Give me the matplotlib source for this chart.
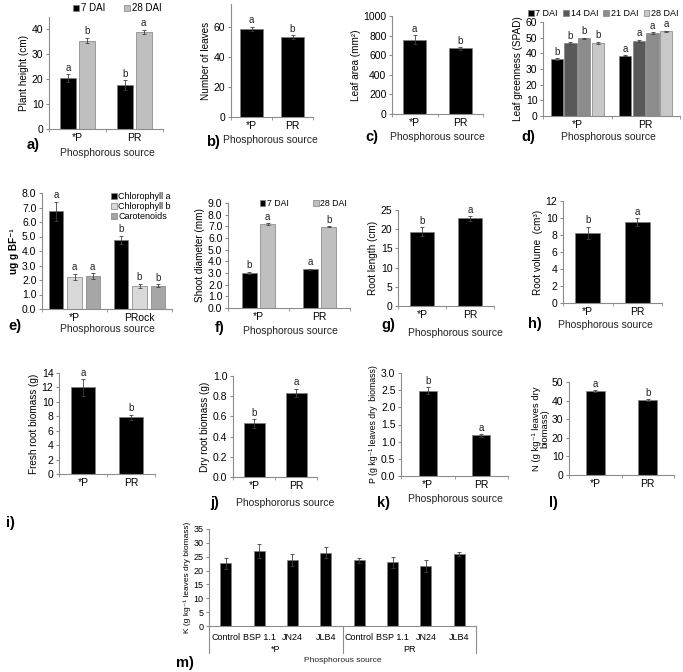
import numpy as np
import matplotlib
matplotlib.use('Agg')
import matplotlib.pyplot as plt
import matplotlib.transforms as mtrans

W, H = 683, 672

# ---- data ----
cats = ['*P', 'PR']

height_7 = [20.5, 17.5]
height_7_err = [1.5, 2.0]
height_28 = [35.5, 39.0]
height_28_err = [1.0, 0.8]
height_7_let = ['a', 'b']
height_28_let = ['b', 'a']

leaves = [58.5, 53.0]
leaves_err = [1.5, 1.2]
leaves_let = ['a', 'b']

area = [760, 670]
area_err = [45, 12]
area_let = ['a', 'b']

spad_labels = ['7 DAI', '14 DAI', '21 DAI', '28 DAI']
spad = [[36.5, 38.5], [46.5, 48.0], [49.5, 53.0], [46.5, 54.0]]
spad_err = [[0.5, 0.4], [0.5, 0.8], [0.6, 0.4], [0.8, 0.5]]
spad_let = [['b', 'a'], ['b', 'a'], ['b', 'a'], ['b', 'a']]

pig_cats = ['*P', 'PRock']
pig_labels = ['Chlorophyll a', 'Chlorophyll b', 'Carotenoids']
pig = [[6.75, 4.75], [2.2, 1.6], [2.25, 1.6]]
pig_err = [[0.65, 0.28], [0.2, 0.12], [0.2, 0.1]]
pig_let = [['a', 'b'], ['a', 'b'], ['a', 'b']]

diam_7 = [3.0, 3.3]
diam_7_err = [0.1, 0.05]
diam_28 = [7.2, 6.95]
diam_28_err = [0.05, 0.05]
diam_7_let = ['b', 'a']
diam_28_let = ['a', 'b']

rootlen = [19.3, 22.8]
rootlen_err = [1.2, 0.6]
rootlen_let = ['b', 'a']

rootvol = [8.25, 9.5]
rootvol_err = [0.75, 0.45]
rootvol_let = ['b', 'a']

fresh = [12.0, 7.85]
fresh_err = [1.15, 0.35]
fresh_let = ['a', 'b']

dry = [0.53, 0.835]
dry_err = [0.04, 0.04]
dry_let = ['b', 'a']

phos = [2.48, 1.18]
phos_err = [0.1, 0.03]
phos_let = ['b', 'a']

nitro = [45.0, 40.3]
nitro_err = [0.5, 0.4]
nitro_let = ['a', 'b']

k_cats = ['Control', 'BSP 1.1', 'JN24', 'JLB4', 'Control', 'BSP 1.1', 'JN24', 'JLB4']
k_groups = ['*P', 'PR']
potas = [22.7, 27.0, 23.8, 26.5, 23.7, 23.0, 21.7, 26.0]
potas_err = [2.0, 2.5, 2.2, 2.0, 0.8, 2.0, 2.2, 0.6]

GRID = '#8c8c8c'
plt.rcParams['font.family'] = ['Liberation Sans', 'DejaVu Sans']

fig = plt.figure(figsize=(W / 100, H / 100), dpi=100)


def px_axes(l, t, r, b):
    return fig.add_axes([l / W, 1 - b / H, (r - l) / W, (b - t) / H])


def ftext(x, y, s, **kw):
    fig.text(x / W, 1 - y / H, s, **kw)


def style(ax, labels, ylim, step, ylabel, fmt=None, lsize=7.2):
    n = len(labels)
    for s in ['top', 'right']:
        ax.spines[s].set_visible(False)
    for s in ['left', 'bottom']:
        ax.spines[s].set_color(GRID)
        ax.spines[s].set_linewidth(0.8)
    ax.set_xlim(-0.5, n - 0.5)
    ax.set_ylim(0, ylim)
    ticks = np.arange(0, ylim + 1e-9, step)
    ax.set_yticks(ticks)
    if fmt:
        ax.set_yticklabels([fmt % t for t in ticks])
    ax.set_xticks(range(n))
    ax.set_xticklabels(labels)
    ax.set_xticks(np.arange(n + 1) - 0.5, minor=True)
    ax.tick_params(axis='x', which='major', length=0, labelsize=7.5, pad=3)
    ax.tick_params(axis='x', which='minor', length=2.5, color=GRID)
    ax.tick_params(axis='y', length=2.5, color=GRID, labelsize=7.5, pad=1.5)
    ax.set_ylabel(ylabel, fontsize=lsize, labelpad=2)


def bars(ax, vals, errs, lets, off, width, color, label=None):
    x = np.arange(len(vals)) + off
    ax.bar(x, vals, width, color=color, edgecolor='#7f7f7f', linewidth=0.5,
           label=label, zorder=2)
    ax.errorbar(x, vals, yerr=errs, fmt='none', ecolor='#404040',
                elinewidth=0.6, capsize=1.3, capthick=0.6, zorder=3)
    if lets is not None:
        top = ax.get_ylim()[1]
        for xi, v, e, l in zip(x, vals, errs, lets):
            ax.text(xi, v + e + top * 0.015, l, ha='center', va='bottom',
                    fontsize=7, color='#222222')


def leg(ax, size=7, **kw):
    l = ax.legend(fontsize=size, frameon=False, handlelength=0.6, handleheight=0.6,
                  handletextpad=0.2, borderaxespad=0, **kw)
    return l


# a) plant height
ax = px_axes(49, 17, 163, 129)
style(ax, cats, 45, 10, 'Plant height (cm)')
bars(ax, height_7, height_7_err, height_7_let, -0.16, 0.28, 'black', '7 DAI')
bars(ax, height_28, height_28_err, height_28_let, 0.16, 0.28, '#bfbfbf', '28 DAI')
leg(ax, loc='lower center', bbox_to_anchor=(0.6, 1.0), ncol=2, columnspacing=2.0)

# b) number of leaves
ax = px_axes(231, 4, 313, 117)
style(ax, cats, 75, 20, 'Number of leaves')
bars(ax, leaves, leaves_err, leaves_let, 0, 0.58, 'black')

# c) leaf area
ax = px_axes(392, 16, 483, 114)
style(ax, cats, 1000, 200, 'Leaf area (mm²)')
bars(ax, area, area_err, area_let, 0, 0.5, 'black')

# d) SPAD
ax = px_axes(543, 22, 680, 116)
style(ax, cats, 60, 10, 'Leaf greenness (SPAD)')
d_cols = ['black', '#595959', '#8c8c8c', '#c8c8c8']
for i in range(4):
    bars(ax, spad[i], spad_err[i], spad_let[i], -0.3 + 0.2 * i, 0.18,
         d_cols[i], spad_labels[i])
leg(ax, size=6.5, loc='lower center', bbox_to_anchor=(0.44, 1.0), ncol=4,
    columnspacing=0.6)

# e) pigments
ax = px_axes(42, 193, 172, 309)
style(ax, pig_cats, 8, 1, 'ug g BF⁻¹', fmt='%.1f')
ax.yaxis.label.set_fontweight('bold')
e_cols = ['black', '#d9d9d9', '#a6a6a6']
for i in range(3):
    bars(ax, pig[i], pig_err[i], pig_let[i], -0.28 + 0.28 * i, 0.22,
         e_cols[i], pig_labels[i])
leg(ax, size=6.5, loc='upper right', bbox_to_anchor=(1.02, 1.04), ncol=1,
    labelspacing=0.12)

# f) shoot diameter
ax = px_axes(228, 203, 350, 308)
style(ax, cats, 9, 1, 'Shoot diameter (mm)', fmt='%.1f')
bars(ax, diam_7, diam_7_err, diam_7_let, -0.15, 0.25, 'black', '7 DAI')
bars(ax, diam_28, diam_28_err, diam_28_let, 0.15, 0.25, '#bfbfbf', '28 DAI')
leg(ax, size=6.3, loc='upper center', bbox_to_anchor=(0.62, 1.07), ncol=2,
    columnspacing=2.8)

# g) root length
ax = px_axes(398, 210, 494, 306)
style(ax, cats, 25, 5, 'Root length (cm)')
bars(ax, rootlen, rootlen_err, rootlen_let, 0, 0.5, 'black')

# h) root volume
ax = px_axes(563, 201, 662, 303)
style(ax, cats, 12, 2, 'Root volume  (cm³)')
bars(ax, rootvol, rootvol_err, rootvol_let, 0, 0.5, 'black')

# i) fresh root biomass
ax = px_axes(59, 373, 155, 474)
style(ax, cats, 14, 2, 'Fresh root biomass (g)')
bars(ax, fresh, fresh_err, fresh_let, 0, 0.52, 'black')

# j) dry root biomass
ax = px_axes(233, 376, 317, 477)
style(ax, cats, 1.0, 0.2, 'Dry root biomass (g)', fmt='%.1f')
bars(ax, dry, dry_err, dry_let, 0, 0.5, 'black')

# k) P
ax = px_axes(401, 373, 508, 476)
style(ax, cats, 3.0, 0.5, 'P (g kg⁻¹ leaves dry  biomass)', fmt='%.1f', lsize=6.3)
bars(ax, phos, phos_err, phos_let, 0, 0.34, 'black')

# l) N
ax = px_axes(569, 382, 674, 475)
style(ax, cats, 50, 10, 'N (g kg⁻¹ leaves dry\nbiomass)', lsize=6.8)
ax.yaxis.label.set_linespacing(0.9)
bars(ax, nitro, nitro_err, nitro_let, 0, 0.36, 'black')

# m) K
ax = px_axes(209, 529, 476, 626)
style(ax, k_cats, 35, 5, 'K (g kg⁻¹ leaves dry biomass)', lsize=6)
ax.tick_params(axis='x', which='minor', length=0)
ax.tick_params(axis='x', which='major', labelsize=6.5, pad=5)
ax.tick_params(axis='y', labelsize=6.5)
bars(ax, potas, potas_err, None, 0, 0.33, 'black')
tr = mtrans.blended_transform_factory(ax.transData, ax.transAxes)
for xs in [-0.5, 3.5, 7.5]:
    ax.plot([xs, xs], [0, -0.28], color=GRID, lw=0.8, transform=tr, clip_on=False)
for gi, g in enumerate(k_groups):
    ax.text(1.5 + 4 * gi, -0.24, g, transform=tr, ha='center', va='center',
            fontsize=6.5)

# panel letters and x titles
letters = [('a)', 33, 145), ('b)', 213, 142), ('c)', 372, 137), ('d)', 528, 137),
           ('e)', 15, 326), ('f)', 220, 328), ('g)', 388, 325), ('h)', 535, 324),
           ('i)', 10, 523), ('j)', 215, 503), ('k)', 383, 503), ('l)', 553, 503),
           ('m)', 185, 663)]
for s, x, y in letters:
    ftext(x, y, s, fontsize=10.5, fontweight='bold', ha='center', va='center')

xtitles = [('Phosphorous source', 107, 153), ('Phosphorous source', 270, 140),
           ('Phosphorous source', 437, 137), ('Phosphorous source', 608, 137),
           ('Phosphorous source', 107, 329), ('Phosphorous source', 290, 331),
           ('Phosphorous source', 455, 333), ('Phosphorous source', 605, 325),
           ('Phosphororus source', 285, 503), ('Phosphorous source', 455, 499),
           ('Phosphorous source', 343, 660)]
for s, x, y in xtitles:
    ftext(x, y, s, fontsize=7.5 if y != 660 else 6, ha='center', va='center',
          color='#222222')

fig.savefig('out.png', dpi=100, facecolor='white')
